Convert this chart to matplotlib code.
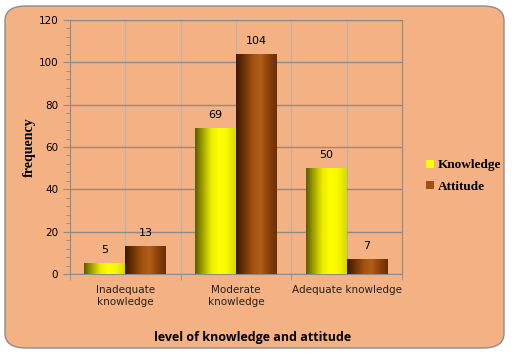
import numpy as np
import matplotlib.pyplot as plt
from matplotlib.patches import FancyBboxPatch, Patch
from matplotlib.colors import LinearSegmentedColormap

categories = ['Inadequate\nknowledge', 'Moderate\nknowledge', 'Adequate knowledge']
knowledge = [5, 69, 50]
attitude = [13, 104, 7]
series_names = ['Knowledge', 'Attitude']

bg = '#F4B183'
fig = plt.figure(figsize=(5.29, 3.63), dpi=100)
fig.patch.set_facecolor('white')

# rounded chart area
frame = FancyBboxPatch((5 / 529, 1 - 348 / 363), 499 / 529, 342 / 363,
                       boxstyle='round,pad=0,rounding_size=0.04',
                       transform=fig.transFigure, facecolor=bg,
                       edgecolor='#8c8c8c', linewidth=1.0, zorder=-5)
fig.patches.append(frame)

ax = fig.add_axes([70 / 529, 1 - 274 / 363, 332 / 529, 254 / 363])
ax.set_facecolor('none')

x = np.arange(len(categories))
w = 0.37
b1 = ax.bar(x - w / 2, knowledge, w, color='#FFFF00', zorder=3)
b2 = ax.bar(x + w / 2, attitude, w, color='#A0500F', zorder=3)

# cylinder-ish shading
yellow_cm = LinearSegmentedColormap.from_list(
    'y', ['#5e5e00', '#a8a800', '#ecec00', '#ffff00', '#f6f600', '#d8d800'])
brown_cm = LinearSegmentedColormap.from_list(
    'b', ['#3e1a00', '#6e3306', '#a0500f', '#b15e18', '#8c420b', '#6a3005'])
grad = np.linspace(0, 1, 64).reshape(1, -1)
for bars, cm in ((b1, yellow_cm), (b2, brown_cm)):
    for bar in bars:
        bx, by = bar.get_x(), bar.get_y()
        bw, bh = bar.get_width(), bar.get_height()
        im = ax.imshow(grad, cmap=cm, aspect='auto', zorder=4,
                       extent=(bx, bx + bw, by, by + bh))
        im.set_clip_path(bar)

for bars, vals in ((b1, knowledge), (b2, attitude)):
    for bar, v in zip(bars, vals):
        ax.annotate(str(v), (bar.get_x() + bar.get_width() / 2, v),
                    xytext=(0, 6), textcoords='offset points',
                    ha='center', va='bottom', fontsize=8, zorder=5)

ax.set_xlim(-0.5, 2.5)
ax.set_ylim(0, 120)
ax.set_yticks(np.arange(0, 121, 20))
ax.set_yticks(np.arange(0, 121, 4), minor=True)
ax.set_xticks(x)
ax.set_xticklabels(categories, fontsize=7.5, family='DejaVu Sans', color='#222222')
ax.set_xticks([-0.5, 0.5, 1.5, 2.5], minor=True)
ax.tick_params(axis='x', which='major', length=0, pad=8)
ax.tick_params(axis='x', which='minor', length=4, color='#8c8c8c', direction='out')
ax.tick_params(axis='y', which='major', length=5, color='#8c8c8c', labelsize=7.5)
ax.tick_params(axis='y', which='minor', length=3, color='#8c8c8c')

ax.grid(axis='y', which='major', color='#8c8c8c', linewidth=1.0, zorder=1)
ax.grid(axis='x', which='both', color='#b4b4b4', linewidth=0.8, zorder=1)
for s in ax.spines.values():
    s.set_color('#8c8c8c')

ax.set_ylabel('frequency', family='Liberation Serif', fontweight='bold', fontsize=10,
              labelpad=2)
fig.text(253 / 529, 1 - 337 / 363, 'level of knowledge and attitude', ha='center',
         va='center', fontsize=9, fontweight='bold', family='Open Sans')

handles = [Patch(facecolor='#FFFF00'), Patch(facecolor='#A0500F')]
fig.legend(handles, series_names, loc='center left',
           bbox_to_anchor=(426 / 529, 1 - 176 / 363), frameon=False,
           prop={'family': 'Liberation Serif', 'weight': 'bold', 'size': 9.5},
           handlelength=0.6, handleheight=0.6, handletextpad=0.3, labelspacing=0.7,
           borderpad=0, borderaxespad=0)

fig.savefig('out.png', dpi=100)
